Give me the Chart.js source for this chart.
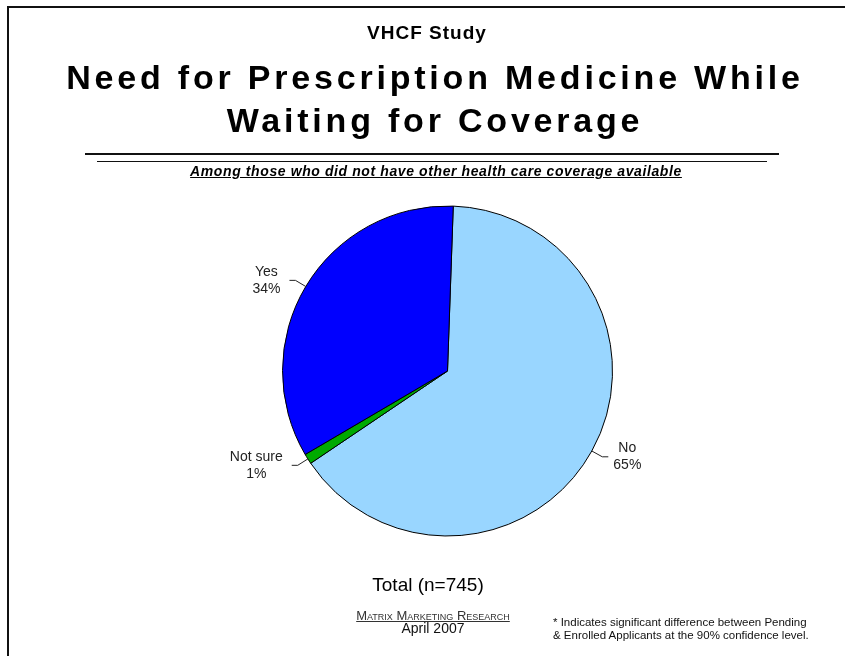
<!DOCTYPE html>
<html>
<head>
<meta charset="utf-8">
<script src="https://cdn.jsdelivr.net/npm/chart.js@4"></script>
<style>
  html, body { margin: 0; padding: 0; background: #fff; }
  body { width: 845px; height: 656px; position: relative; overflow: hidden; font-family: 'Liberation Sans', Arial, sans-serif; color: #000; }
  #frame { position: absolute; left: 7px; top: 6px; width: 860px; height: 700px; border-left: 2px solid #111; border-top: 2px solid #111; }
  .txt { position: absolute; white-space: nowrap; }
  #study { left: 0; width: 854px; top: 22px; text-align: center; font-weight: bold; font-size: 19px; letter-spacing: 1px; }
  #title { left: 0; width: 870px; top: 56px; text-align: center; font-weight: bold; font-size: 34px; line-height: 43px; letter-spacing: 3.8px; }
  #rule1 { position: absolute; left: 85px; width: 694px; top: 153px; height: 0; border-top: 2px solid #111; }
  #rule2 { position: absolute; left: 97px; width: 670px; top: 161px; height: 0; border-top: 1px solid #111; }
  #sub { left: 0; width: 872px; top: 163px; text-align: center; font-weight: bold; font-style: italic; font-size: 14px; text-decoration: underline; letter-spacing: 0.6px; }
  #total { left: 0; width: 856px; top: 574px; text-align: center; font-size: 19px; }
  #matrix { left: 0; width: 866px; top: 608px; text-align: center; font-size: 13px; font-variant: small-caps; text-decoration: underline; color: #333; }
  #april { left: 0; width: 866px; top: 620px; text-align: center; font-size: 14px; color: #111; }
  #note { left: 553px; top: 616px; font-size: 11.5px; line-height: 12.5px; color: #111; }
  #chart { position: absolute; left: 0; top: 0; }
</style>
</head>
<body>
<div id="frame"></div>
<canvas id="chart" width="845" height="656"></canvas>
<div class="txt" id="study">VHCF Study</div>
<div class="txt" id="title">Need for Prescription Medicine While<br>Waiting for Coverage</div>
<div id="rule1"></div>
<div id="rule2"></div>
<div class="txt" id="sub">Among those who did not have other health care coverage available</div>
<div class="txt" id="total">Total (n=745)</div>
<div class="txt" id="matrix">Matrix Marketing Research</div>
<div class="txt" id="april">April 2007</div>
<div class="txt" id="note">* Indicates significant difference between Pending<br>&amp; Enrolled Applicants at the 90% confidence level.</div>
<script>
// answers, in the order the slices run clockwise from the top
const categories = ['No', 'Not sure', 'Yes'];
const percents = [65, 1, 34];
const sliceColors = ['#99d6ff', '#00aa00', '#0000ff'];

// leader lines (short radial piece + short flat piece) and two-line labels
const outsideLabels = {
  id: 'outsideLabels',
  afterDatasetsDraw(chart) {
    const ctx = chart.ctx;
    const meta = chart.getDatasetMeta(0);
    ctx.save();
    ctx.font = '14px "Liberation Sans", Arial, sans-serif';
    ctx.fillStyle = '#222';
    ctx.strokeStyle = '#222';
    ctx.lineWidth = 1;
    ctx.textBaseline = 'middle';
    ctx.textAlign = 'center';
    meta.data.forEach((arc, i) => {
      const p = arc.getProps(['x', 'y', 'startAngle', 'endAngle', 'outerRadius'], true);
      const mid = (p.startAngle + p.endAngle) / 2;
      const cx = Math.cos(mid), cy = Math.sin(mid);
      const right = cx > 0;
      const x0 = p.x + cx * p.outerRadius, y0 = p.y + cy * p.outerRadius;
      const x1 = p.x + cx * (p.outerRadius + 12), y1 = p.y + cy * (p.outerRadius + 12);
      const x2 = x1 + (right ? 6 : -6);
      ctx.beginPath();
      ctx.moveTo(x0, y0);
      ctx.lineTo(x1, y1);
      ctx.lineTo(x2, y1);
      ctx.stroke();
      const lines = [categories[i], percents[i] + '%'];
      const w = Math.max(...lines.map(t => ctx.measureText(t).width));
      const tx = right ? x2 + 5 + w / 2 : x2 - 9 - w / 2;
      ctx.fillText(lines[0], tx, y1 - 8.5);
      ctx.fillText(lines[1], tx, y1 + 8.5);
    });
    ctx.restore();
  }
};

new Chart(document.getElementById('chart').getContext('2d'), {
  type: 'pie',
  data: {
    labels: categories,
    datasets: [{
      data: percents,
      backgroundColor: sliceColors,
      borderColor: '#000',
      borderWidth: 1
    }]
  },
  options: {
    responsive: false,
    animation: false,
    rotation: 2,
    layout: { padding: { left: 282, right: 232, top: 205, bottom: 119 } },
    plugins: {
      legend: { display: false },
      tooltip: { enabled: false }
    }
  },
  plugins: [outsideLabels]
});
</script>
</body>
</html>
